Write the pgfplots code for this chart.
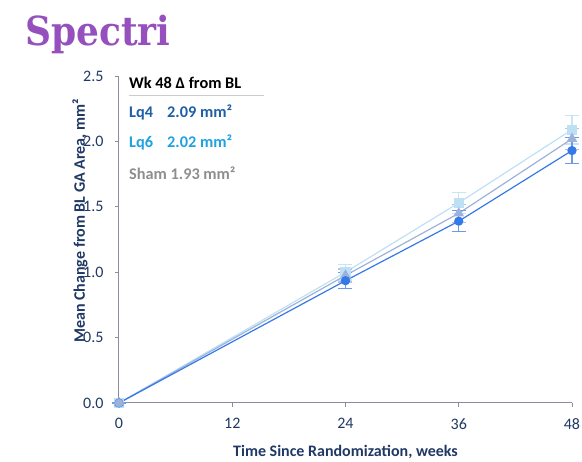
\documentclass[border=0pt]{standalone}
\usepackage{fontspec}
\setmainfont{Carlito}
\newfontfamily\logofont{DejaVu Serif}
\usepackage{graphicx}
\usepackage{pgfplots}
\pgfplotsset{compat=1.18}
\definecolor{navy}{HTML}{1F3864}
\definecolor{axgray}{HTML}{8C8C9C}
\definecolor{cA}{HTML}{3579E8}
\definecolor{cAe}{HTML}{6A9BEA}
\definecolor{cB}{HTML}{9DB1DA}
\definecolor{cBe}{HTML}{B3C3E3}
\definecolor{cC}{HTML}{BEE0F4}
\definecolor{cCe}{HTML}{C8E4F5}
\definecolor{tLq4}{HTML}{1F5FA6}
\definecolor{tLq6}{HTML}{1EA2E0}
\definecolor{tSham}{HTML}{8E8E8E}
\definecolor{logo}{HTML}{9650BE}
\begin{document}
\begin{tikzpicture}[x=1pt,y=1pt]
\useasboundingbox (-119,-59) rectangle (463,403);
\begin{axis}[
  at={(0,0)}, anchor=south west,
  scale only axis, width=453pt, height=327pt,
  xmin=0, xmax=48, ymin=0, ymax=2.5,
  axis x line*=bottom, axis y line*=left,
  axis line style={draw=axgray, line width=1pt, -},
  xtick={0,12,24,36,48},
  ytick={0,0.5,1,1.5,2,2.5},
  tick align=outside, major tick length=4pt,
  tick style={draw=axgray, line width=0.8pt},
  /pgf/number format/assume math mode=true,
  yticklabel style={/pgf/number format/.cd, fixed, fixed zerofill, precision=1, /tikz/.cd, xshift=-8pt},
  xticklabel style={yshift=-8pt},
  tick label style={font=\fontsize{16}{18}\selectfont, text=navy},
  xlabel={Time Since Randomization, weeks},
  ylabel={Mean Change from BL GA Area, mm²},
  label style={font=\bfseries\fontsize{16}{18}\selectfont, text=navy},
  xlabel style={at={(axis description cs:0.5,0)}, anchor=center, yshift=-49pt},
  ylabel style={at={(axis description cs:-0.086,0.557)}, anchor=center},
  clip=false,
]
% light blue squares
\addplot[color=cC, line width=1.2pt, mark=square*, mark size=4.5pt, mark options={fill=cC, draw=cC},
  error bars/.cd, y dir=both, y explicit, error bar style={color=cCe, line width=1.2pt},
  error mark options={rotate=90, mark size=7pt, line width=1.2pt, color=cCe}]
  coordinates {(0,0) +- (0,0) (24,1.00) +- (0,0.06) (36,1.53) +- (0,0.08) (48,2.09) +- (0,0.11)};
% triangles
\addplot[color=cB, line width=1.2pt, mark=triangle*, mark size=5pt, mark options={fill=cB, draw=cB},
  error bars/.cd, y dir=both, y explicit, error bar style={color=cBe, line width=1.2pt},
  error mark options={rotate=90, mark size=7pt, line width=1.2pt, color=cBe}]
  coordinates {(0,0) +- (0,0) (24,0.975) +- (0,0.05) (36,1.45) +- (0,0.07) (48,2.02) +- (0,0.08)};
% circles
\addplot[color=cA, line width=1.2pt, mark=*, mark size=4pt, mark options={fill=cA, draw=cA},
  error bars/.cd, y dir=both, y explicit, error bar style={color=cAe, line width=1.2pt},
  error mark options={rotate=90, mark size=7pt, line width=1.2pt, color=cAe}]
  coordinates {(0,0) +- (0,0) (24,0.935) +- (0,0.06) (36,1.39) +- (0,0.08) (48,1.93) +- (0,0.10)};
\addplot[only marks, mark=*, mark size=4pt, color=cB] coordinates {(0,0)};
\end{axis}
% text block
\node[anchor=base west, inner sep=0, font=\bfseries\fontsize{16.3}{18}\selectfont] at (10,314) {Wk 48 Δ from BL};
\draw[color=black!20, line width=1.5pt] (10,307.5) -- (145,307.5);
\node[anchor=base west, inner sep=0, font=\bfseries\fontsize{16.3}{18}\selectfont, text=tLq4] at (10,285) {Lq4};
\node[anchor=base west, inner sep=0, font=\bfseries\fontsize{16.3}{18}\selectfont, text=tLq4] at (48,285) {2.09 mm²};
\node[anchor=base west, inner sep=0, font=\bfseries\fontsize{16.3}{18}\selectfont, text=tLq6] at (10,255) {Lq6};
\node[anchor=base west, inner sep=0, font=\bfseries\fontsize{16.3}{18}\selectfont, text=tLq6] at (48,255) {2.02 mm²};
\node[anchor=base west, inner sep=0, font=\bfseries\fontsize{16.3}{18}\selectfont, text=tSham] at (10,223) {Sham 1.93 mm²};
% logo
\node[anchor=base west, inner sep=0, text=logo] at (-94,357) {\scalebox{0.9}[1]{\logofont\bfseries\fontsize{40}{44}\selectfont Spectri}};
\end{tikzpicture}
\end{document}
